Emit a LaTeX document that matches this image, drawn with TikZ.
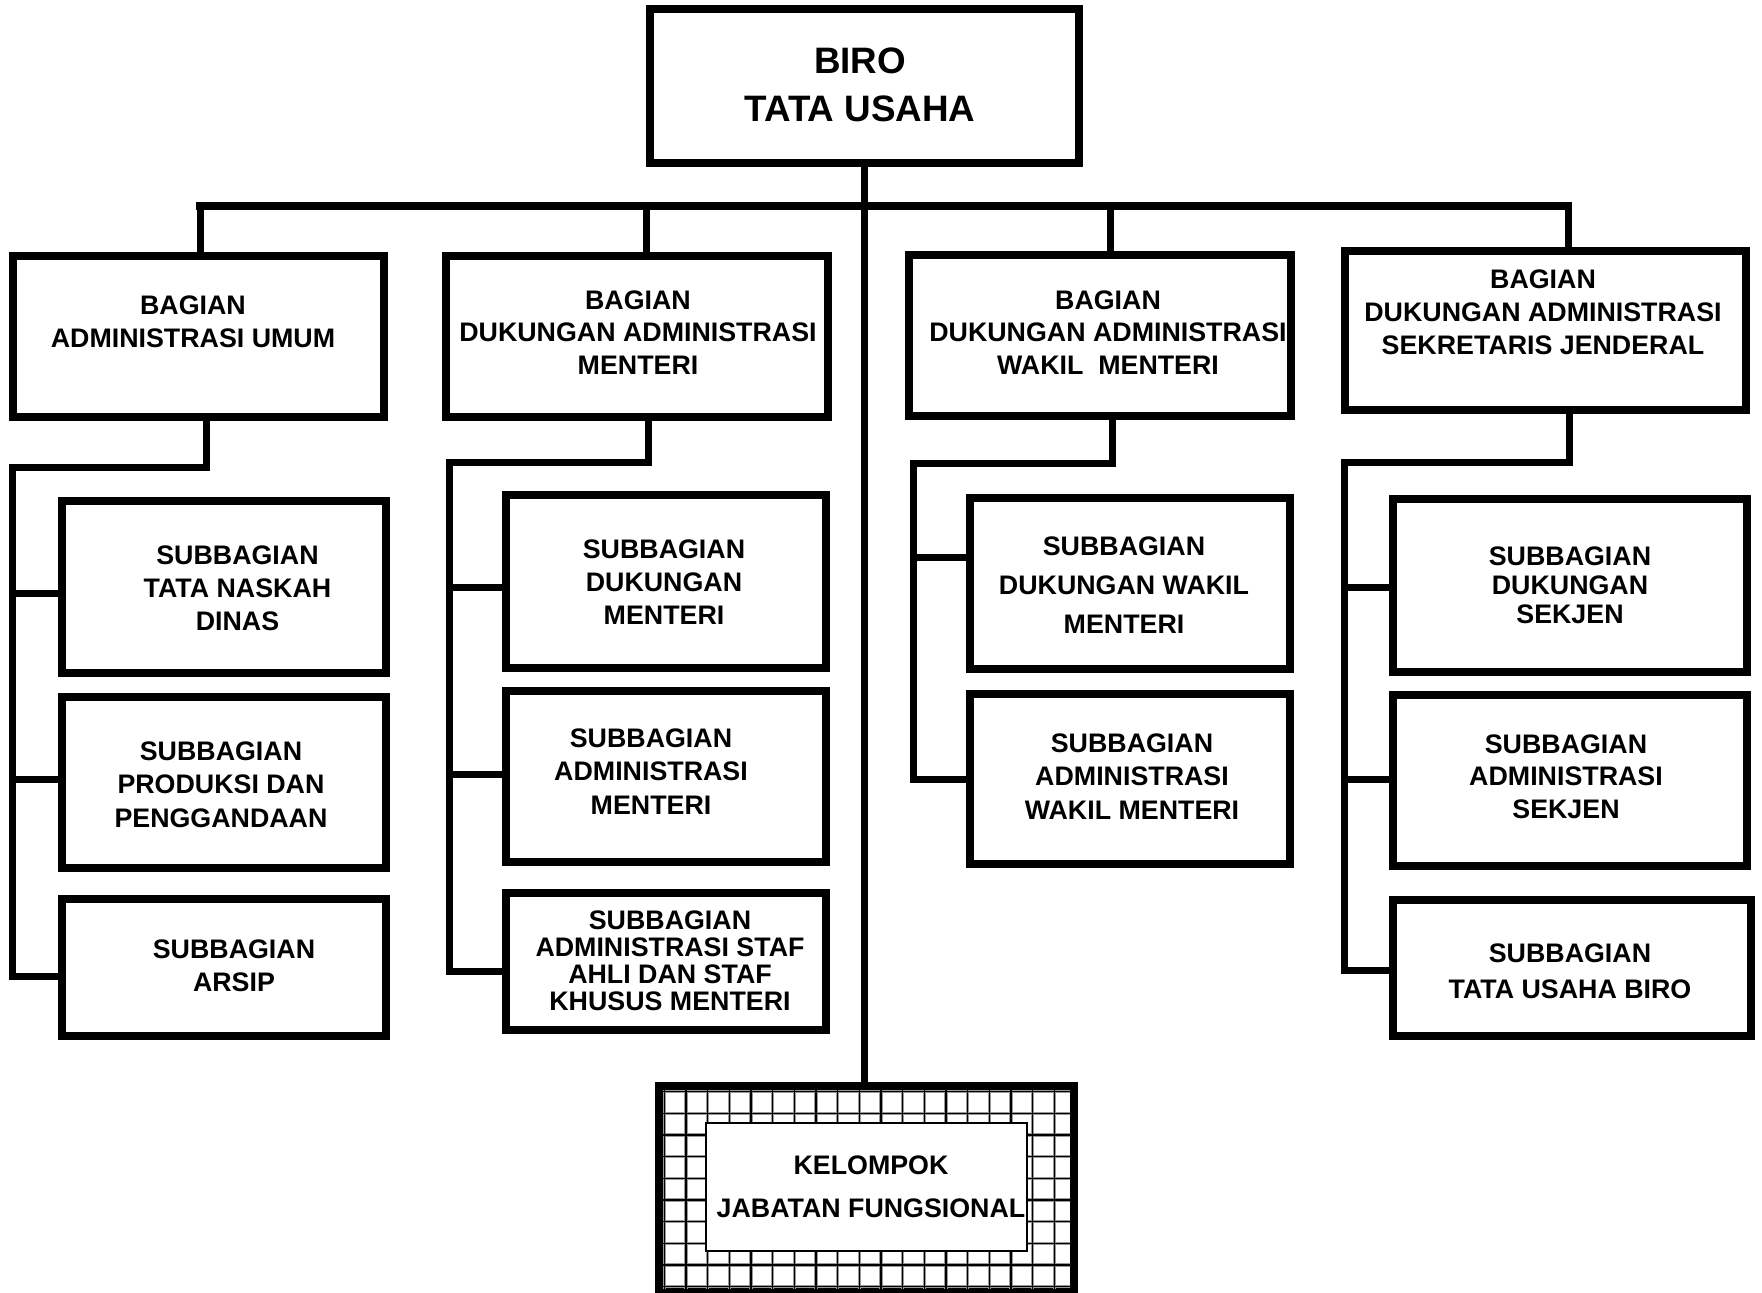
\documentclass[tikz,border=0pt]{standalone}
\usepackage{fontspec}
\setmainfont{Liberation Sans}
\begin{document}
\begin{tikzpicture}[x=1pt,y=-1pt,
  box/.style={draw, rectangle, line width=7.5pt, inner sep=0pt, outer sep=0pt},
  lbl/.style={font={\bfseries\fontsize{26.8}{#1}\selectfont}, align=center, inner sep=0pt},
  lbl/.default=33,
  conn/.style={line width=7pt, line cap=rect, line join=miter},
  gridhalo/.style={line width=3.5pt, draw=black!40},
  gridline/.style={line width=1.2pt, draw=black}
]
\useasboundingbox (0,0) rectangle (1762,1293);
\fill[white] (0,0) rectangle (1762,1293);

% ---------- boxes ----------
\node[box, line width=8pt, minimum width=429pt, minimum height=154pt] (T) at (864.5,86) {};
\node[box, minimum width=371pt, minimum height=161pt] (A) at (198.5,336.5) {};
\node[box, minimum width=382pt, minimum height=161pt] (B) at (637,336.5) {};
\node[box, minimum width=382pt, minimum height=161pt] (C) at (1100,335.5) {};
\node[box, minimum width=401pt, minimum height=159pt] (D) at (1545.5,330.5) {};

\node[box, minimum width=324pt, minimum height=172pt] (A1) at (224,587) {};
\node[box, minimum width=324pt, minimum height=171pt] (A2) at (224,782.5) {};
\node[box, minimum width=324pt, minimum height=137pt] (A3) at (224,967.5) {};

\node[box, minimum width=320pt, minimum height=173pt] (B1) at (666,581.5) {};
\node[box, minimum width=320pt, minimum height=171pt] (B2) at (666,776.5) {};
\node[box, minimum width=320pt, minimum height=137pt] (B3) at (666,961.5) {};

\node[box, minimum width=320pt, minimum height=171pt] (C1) at (1130,583.5) {};
\node[box, minimum width=320pt, minimum height=170pt] (C2) at (1130,779) {};

\node[box, minimum width=354pt, minimum height=173pt] (D1) at (1570,585.5) {};
\node[box, minimum width=354pt, minimum height=171pt] (D2) at (1570,780.5) {};
\node[box, minimum width=358pt, minimum height=136pt] (D3) at (1572,968) {};

% ---------- kelompok jabatan fungsional ----------
\node[box, line width=8pt, minimum width=415pt, minimum height=206pt] (K) at (866.5,1189) {};
\begin{scope}
  \clip (663,1090) rectangle (1070,1288);
  \foreach \i in {0,...,19} {
    \draw[gridhalo] ({664.3+21.67*\i},1080) -- ++(0,220);
  }
  \foreach \j in {0,...,9} {
    \draw[gridhalo] (650,{1091.7+21.67*\j}) -- ++(440,0);
  }
  \foreach \i in {0,...,19} {
    \draw[gridline] ({664.3+21.67*\i},1080) -- ++(0,220);
  }
  \foreach \j in {0,...,9} {
    \draw[gridline] (650,{1091.7+21.67*\j}) -- ++(440,0);
  }
\end{scope}
\node[draw, fill=white, line width=1.5pt, inner sep=0pt, minimum width=321pt, minimum height=128pt] (Kin) at (866.5,1187) {};

% ---------- connectors ----------
\coordinate (busL) at (200,205.5);
\coordinate (busB) at (646,205.5);
\coordinate (busC) at (1110,205.5);
\coordinate (busR) at (1568,205.5);
\draw[conn] (T.south) -- (T.south |- K.north);
\draw[conn, line width=8pt] (busL) -- (busR);
\draw[conn] (busL) -- (busL |- A.north);
\draw[conn] (busB) -- (busB |- B.north);
\draw[conn] (busC) -- (busC |- C.north);
\draw[conn] (busR) -- (busR |- D.north);

% A group
\coordinate (a0) at (206,467);
\coordinate (a1) at (12,467);
\coordinate (aj1) at (12,593);
\coordinate (aj2) at (12,779);
\coordinate (aj3) at (12,976);
\draw[conn] (a0 |- A.south) -- (a0) -- (a1) -- (aj3) -- (aj3 -| A3.west);
\draw[conn] (aj1) -- (aj1 -| A1.west);
\draw[conn] (aj2) -- (aj2 -| A2.west);

% B group
\coordinate (b0) at (648,462);
\coordinate (b1) at (449,462);
\coordinate (bj1) at (449,587);
\coordinate (bj2) at (449,774);
\coordinate (bj3) at (449,971);
\draw[conn] (b0 |- B.south) -- (b0) -- (b1) -- (bj3) -- (bj3 -| B3.west);
\draw[conn] (bj1) -- (bj1 -| B1.west);
\draw[conn] (bj2) -- (bj2 -| B2.west);

% C group
\coordinate (c0) at (1112,463);
\coordinate (c1) at (913,463);
\coordinate (cj1) at (913,557);
\coordinate (cj2) at (913,779);
\draw[conn] (c0 |- C.south) -- (c0) -- (c1) -- (cj2) -- (cj2 -| C2.west);
\draw[conn] (cj1) -- (cj1 -| C1.west);

% D group
\coordinate (d0) at (1569,462);
\coordinate (d1) at (1344,462);
\coordinate (dj1) at (1344,587);
\coordinate (dj2) at (1344,779);
\coordinate (dj3) at (1344,970);
\draw[conn] (d0 |- D.south) -- (d0) -- (d1) -- (dj3) -- (dj3 -| D3.west);
\draw[conn] (dj1) -- (dj1 -| D1.west);
\draw[conn] (dj2) -- (dj2 -| D2.west);

% ---------- texts ----------
\node[font={\bfseries\fontsize{36.8}{48}\selectfont}, align=center, inner sep=0pt] (T-t) at (860,85) {BIRO\\TATA USAHA};
\node[lbl] (A-t) at (193,321.5) {BAGIAN\\ADMINISTRASI UMUM};
\node[lbl=32.5] (B-t) at (638,332.5) {BAGIAN\\DUKUNGAN ADMINISTRASI\\MENTERI};
\node[lbl=32.5] (C-t) at (1108,332.5) {BAGIAN\\DUKUNGAN ADMINISTRASI\\WAKIL~ MENTERI};
\node[lbl] (D-t) at (1543,312) {BAGIAN\\DUKUNGAN ADMINISTRASI\\SEKRETARIS JENDERAL};

\node[lbl] (A1-t) at (237.5,588) {SUBBAGIAN\\TATA NASKAH\\DINAS};
\node[lbl=33.5] (A2-t) at (221,784.5) {SUBBAGIAN\\PRODUKSI DAN\\PENGGANDAAN};
\node[lbl] (A3-t) at (234,965.5) {SUBBAGIAN\\ARSIP};

\node[lbl] (B1-t) at (664,582) {SUBBAGIAN\\DUKUNGAN\\MENTERI};
\node[lbl=33.5] (B2-t) at (651,771.5) {SUBBAGIAN\\ADMINISTRASI\\MENTERI};
\node[lbl=27] (B3-t) at (670,960.5) {SUBBAGIAN\\ADMINISTRASI STAF\\AHLI DAN STAF\\KHUSUS MENTERI};

\node[lbl=39] (C1-t) at (1124,585) {SUBBAGIAN\\DUKUNGAN WAKIL\\MENTERI};
\node[lbl=33.5] (C2-t) at (1132,776.5) {SUBBAGIAN\\ADMINISTRASI\\WAKIL MENTERI};

\node[lbl=29] (D1-t) at (1570,585) {SUBBAGIAN\\DUKUNGAN\\SEKJEN};
\node[lbl=32.5] (D2-t) at (1566,776.5) {SUBBAGIAN\\ADMINISTRASI\\SEKJEN};
\node[lbl=36] (D3-t) at (1570,971) {SUBBAGIAN\\TATA USAHA BIRO};

\node[lbl=43] (K-t) at (871,1186.5) {KELOMPOK\\JABATAN FUNGSIONAL};
\end{tikzpicture}
\end{document}
